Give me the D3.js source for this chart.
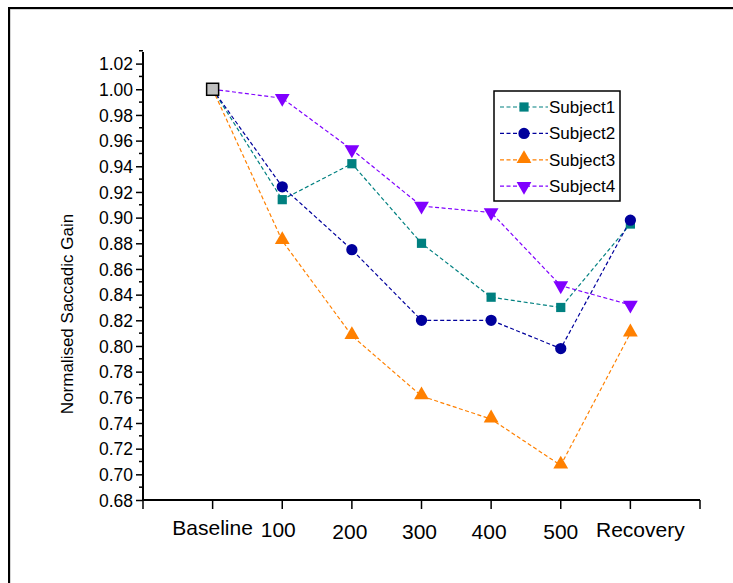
<!DOCTYPE html>
<html><head><meta charset="utf-8">
<script src="https://cdn.jsdelivr.net/npm/d3@7"></script>
<style>body{margin:0;background:#fff}svg{display:block;font-family:"Liberation Sans",Arial,sans-serif}</style>
</head><body>
<svg id="c" width="733" height="583"></svg>
<script>
const categories = ["Baseline","100","200","300","400","500","Recovery"];
const subject1 = [1.000,0.914,0.942,0.880,0.838,0.830,0.895];
const subject2 = [1.000,0.924,0.875,0.820,0.820,0.798,0.898];
const subject3 = [1.000,0.882,0.808,0.761,0.743,0.707,0.810];
const subject4 = [1.000,0.993,0.953,0.909,0.904,0.847,0.832];
const seriesNames = ["Subject1","Subject2","Subject3","Subject4"];
const seriesColors = ["#008080","#00009C","#FF8000","#8000FF"];
const yTicks = d3.range(0.68,1.0201,0.02);

const svg = d3.select("#c");
// outer frame
svg.append("rect").attr("x",10).attr("y",9).attr("width",760).attr("height",620)
  .attr("fill","none").attr("stroke","#aaa").attr("stroke-width",1);
svg.append("rect").attr("x",9).attr("y",8).attr("width",760).attr("height",620)
  .attr("fill","none").attr("stroke","#000").attr("stroke-width",2);

const x = d3.scaleLinear().domain([0,8]).range([143,700]);
const y = d3.scaleLinear().domain([0.68,1.02]).range([500,63.6]);

// y axis
const yAxis = d3.axisLeft(y).tickValues(yTicks).tickFormat(d3.format(".2f")).tickSize(7).tickPadding(3);
const gy = svg.append("g").attr("transform","translate(143,0)").call(yAxis);
gy.select(".domain").remove();
gy.append("line").attr("x1",0).attr("x2",0).attr("y1",y(0.68)).attr("y2",52).attr("stroke","#000").attr("stroke-width",2);
gy.selectAll(".tick line").attr("stroke-width",1.5);
gy.selectAll(".tick text").attr("font-size",17.5).attr("dy","0.35em").attr("fill","#000").attr("font-family","Liberation Sans, Arial, sans-serif");
// minor ticks
const minor = d3.range(0.69,1.03,0.02);
gy.selectAll(".minor").data(minor).join("line").attr("class","minor")
  .attr("x1",0).attr("x2",-4).attr("y1",d=>y(d)).attr("y2",d=>y(d)).attr("stroke","#000").attr("stroke-width",1.5);

// x axis
const gx = svg.append("g");
gx.append("line").attr("x1",x(0)).attr("x2",x(8)).attr("y1",500).attr("y2",500).attr("stroke","#000").attr("stroke-width",2);
gx.selectAll(".xt").data(d3.range(0,9)).join("line").attr("class","xt")
  .attr("x1",d=>x(d)).attr("x2",d=>x(d)).attr("y1",500).attr("y2",509).attr("stroke","#000").attr("stroke-width",1.5);
const labDx = [0,-4,-2,-2,-2,0,10];
const labY = [535,537,539,539,539,539,537];
gx.selectAll(".xl").data(categories).join("text").attr("class","xl")
  .attr("x",(d,i)=>x(i+1)+labDx[i]).attr("y",(d,i)=>labY[i]).attr("text-anchor","middle")
  .attr("font-size",21).attr("fill","#000").text(d=>d);

// y title
svg.append("text").attr("transform","translate(73,314) rotate(-90)").attr("text-anchor","middle")
  .attr("font-size",17).attr("fill","#000").text("Normalised Saccadic Gain");

const allSeries = [subject1,subject2,subject3,subject4];
const line = d3.line().x((d,i)=>x(i+1)).y(d=>y(d));
const symbols = [d3.symbolSquare,d3.symbolCircle,d3.symbolTriangle,d3.symbolTriangle];
const symSize = [85,100,95,95];
function drawMarker(g,k,cx,cy){
  const p = g.append("path").attr("d",d3.symbol().type(symbols[k]).size(symSize[k])())
    .attr("fill",seriesColors[k]);
  if(k===3) p.attr("transform",`translate(${cx},${cy}) rotate(180)`);
  else if(k===2) p.attr("transform",`translate(${cx},${cy-1})`);
  else p.attr("transform",`translate(${cx},${cy})`);
}
const plot = svg.append("g");
allSeries.forEach((s,k)=>{
  plot.append("path").datum(s).attr("d",line).attr("fill","none")
    .attr("stroke",seriesColors[k]).attr("stroke-width",1.2).attr("stroke-dasharray","4,2.5");
});
allSeries.forEach((s,k)=>{
  s.forEach((v,i)=>{ if(i>0) drawMarker(plot,k,x(i+1),y(v)); });
});
// baseline overlapping marker
plot.append("rect").attr("x",x(1)-6).attr("y",y(subject1[0])-6).attr("width",12).attr("height",12)
  .attr("fill","#c0c0c0").attr("stroke","#000").attr("stroke-width",1.5);

// legend
const lg = svg.append("g");
lg.append("rect").attr("x",494).attr("y",91).attr("width",126).attr("height",110)
  .attr("fill","#fff").attr("stroke","#000").attr("stroke-width",1.5);
seriesNames.forEach((n,k)=>{
  const ly = 107 + k*26.4;
  lg.append("line").attr("x1",500).attr("x2",548).attr("y1",ly).attr("y2",ly)
    .attr("stroke",seriesColors[k]).attr("stroke-width",1.2).attr("stroke-dasharray","4,2.5");
  drawMarker(lg,k,524,ly);
  lg.append("text").attr("x",549).attr("y",ly+6).attr("font-size",17).attr("fill","#000").text(n);
});
</script>
</body></html>
